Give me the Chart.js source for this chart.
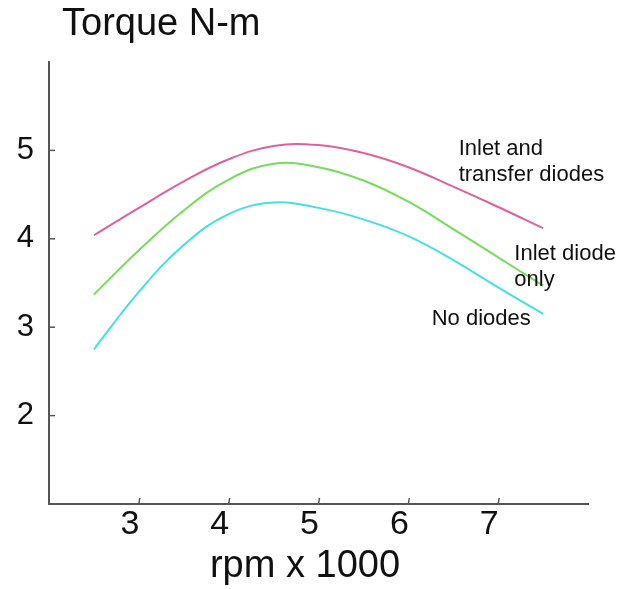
<!DOCTYPE html>
<html>
<head>
<meta charset="utf-8">
<script src="https://cdn.jsdelivr.net/npm/chart.js@4.4.1/dist/chart.umd.min.js"></script>
<style>
  html, body { margin: 0; padding: 0; background: #fff; }
  #wrap { width: 624px; height: 589px; }
</style>
</head>
<body>
<div id="wrap"><canvas id="torque"></canvas></div>
<script>
// rpm x 1000
const rpm = [2.5, 3, 3.5, 4, 4.5, 5, 5.5, 6, 6.5, 7, 7.5];
// torque N-m
const inletAndTransfer = [4.04, 4.35, 4.65, 4.90, 5.05, 5.06, 4.97, 4.81, 4.59, 4.36, 4.12];
const inletOnly        = [3.37, 3.87, 4.32, 4.67, 4.85, 4.81, 4.66, 4.42, 4.11, 3.79, 3.47];
const noDiodes         = [2.75, 3.40, 3.93, 4.28, 4.41, 4.35, 4.22, 4.03, 3.76, 3.45, 3.15];

const xTicks = [3, 4, 5, 6, 7];
const yTicks = [2, 3, 4, 5];

const FONT = '"Liberation Sans", Arial, sans-serif';

// curve captions, anchored in data units (left edge, middle of first line)
const notes = [
    { lines: ['Inlet and', 'transfer diodes'], x: 6.56, y: 5.02 },
    { lines: ['Inlet diode', 'only'], x: 7.18, y: 3.83 },
    { lines: ['No diodes'], x: 6.26, y: 3.09 }
];

function points(values) {
    return rpm.map((r, i) => ({ x: r, y: values[i] }));
}

const decorations = {
    id: 'decorations',
    afterDraw(chart) {
        const { ctx, chartArea, scales: { x, y } } = chart;
        ctx.save();
        // small tick marks pointing into the plot
        ctx.strokeStyle = '#555';
        ctx.lineWidth = 1.5;
        x.ticks.forEach(t => {
            const px = x.getPixelForValue(t.value);
            ctx.beginPath();
            ctx.moveTo(px, chartArea.bottom);
            ctx.lineTo(px + 1, chartArea.bottom - 6);
            ctx.stroke();
        });
        y.ticks.forEach(t => {
            const py = y.getPixelForValue(t.value);
            ctx.beginPath();
            ctx.moveTo(chartArea.left, py);
            ctx.lineTo(chartArea.left + 6, py);
            ctx.stroke();
        });

        ctx.fillStyle = '#111';
        ctx.textBaseline = 'middle';
        ctx.textAlign = 'left';
        ctx.font = '38px ' + FONT;
        ctx.fillText('Torque N-m', 62, 25);

        ctx.textAlign = 'center';
        ctx.fillText('rpm x 1000', chartArea.left + 256, chartArea.bottom + 63);

        ctx.textAlign = 'left';
        ctx.font = '22px ' + FONT;
        notes.forEach(n => {
            const px = x.getPixelForValue(n.x);
            const py = y.getPixelForValue(n.y);
            n.lines.forEach((line, i) => ctx.fillText(line, px, py + i * 26));
        });
        ctx.restore();
    }
};

const line = (label, values, color) => ({
    label: label,
    data: points(values),
    borderColor: color,
    borderWidth: 2,
    pointRadius: 0,
    fill: false,
    tension: 0.4
});

new Chart(document.getElementById('torque').getContext('2d'), {
    type: 'line',
    data: {
        datasets: [
            line('Inlet and transfer diodes', inletAndTransfer, '#e0609e'),
            line('Inlet diode only', inletOnly, '#74dd5a'),
            line('No diodes', noDiodes, '#45e0e2')
        ]
    },
    options: {
        responsive: true,
        maintainAspectRatio: false,
        animation: false,
        layout: { padding: { top: 62, right: 36, left: 0, bottom: 0 } },
        plugins: {
            legend: { display: false },
            tooltip: { enabled: false }
        },
        scales: {
            x: {
                type: 'linear',
                min: 2,
                max: 8,
                afterBuildTicks: s => { s.ticks = xTicks.map(v => ({ value: v })); },
                afterFit: s => { s.height = 85; },
                grid: { display: true, drawOnChartArea: false, drawTicks: false },
                border: { display: true, color: '#555', width: 2 },
                ticks: { color: '#111', font: { family: FONT, size: 34 }, padding: 0, labelOffset: -9 }
            },
            y: {
                min: 1,
                max: 6,
                afterBuildTicks: s => { s.ticks = yTicks.map(v => ({ value: v })); },
                afterFit: s => { s.width = 49; },
                grid: { display: true, drawOnChartArea: false, drawTicks: false },
                border: { display: true, color: '#555', width: 2 },
                ticks: { color: '#111', font: { family: FONT, size: 31 }, padding: 15 }
            }
        }
    },
    plugins: [decorations]
});
</script>
</body>
</html>
